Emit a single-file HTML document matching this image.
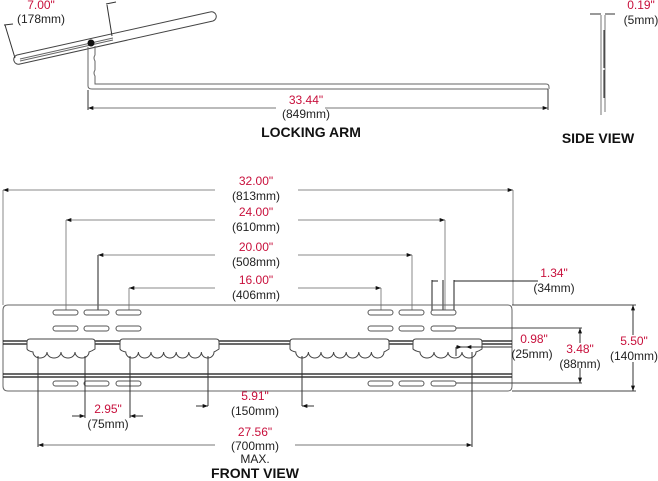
<!DOCTYPE html>
<html><head><meta charset="utf-8"><style>
html,body{margin:0;padding:0;background:#fff;}
svg{display:block;}
text{font-family:"Liberation Sans",sans-serif;font-size:12px;text-anchor:middle;}
.r{fill:#c8103c;}
.k{fill:#222;}
.b{font-weight:bold;font-size:14px;fill:#111;}
</style></head><body>
<svg width="658" height="481" viewBox="0 0 658 481" xmlns="http://www.w3.org/2000/svg">
<defs>
<marker id="a" viewBox="0 0 8 6" refX="8" refY="3" markerWidth="7" markerHeight="4" orient="auto-start-reverse"><path d="M0,0L8,3L0,6z" fill="#111"/></marker>
</defs>
<g fill="none" stroke="#555" stroke-width="1">
<path d="M17,55 L210,12 A4.5,4.5 0 0 1 213,21 L20,64 A4.5,4.5 0 0 1 17,55z" stroke="#444"/>
<path d="M20,59 L113,38 M20,61 L113,40" stroke="#666"/>
<path d="M88,47 L88,86 Q88,89 92,89 L548,89 M95,46 L95,55 Q93,58 95,61 L95,70 Q93,73 95,76 L95,84 L546,84 Q549,84 549,87 L549,89" stroke="#666"/>
<path d="M548,89 L548,110 M88,90 L88,110" stroke="#333"/>
<line x1="88" y1="108" x2="276" y2="108" stroke="#777" marker-start="url(#a)"/>
<line x1="325" y1="108" x2="548" y2="108" stroke="#777" marker-end="url(#a)"/>
<path d="M5,25 L15,58 M4,25 L13,24 M107,5 L112,36 M106,4 L116,2" stroke="#333"/>
<path d="M601,15 L601,115 M605,15 L605,112" stroke="#777"/>
<path d="M604,30 L604,68 M604,70 L604,98" stroke="#222"/>
<path d="M590,14 L601,14 M605,14 L615,14" stroke="#333"/>
<path d="M3,190 L3,305 M513,190 L513,305 M66,220 L66,312 M445,220 L445,312 M98,255 L98,312 M412,255 L412,312 M129,288 L129,312 M381,288 L381,312" stroke="#888"/>
<path d="M98,255 L98,312 M432,280 L432,312 M443,280 L443,312 M454,280 L454,312" stroke="#222"/>
<line x1="3" y1="190" x2="215" y2="190" stroke="#888" marker-start="url(#a)"/>
<line x1="298" y1="190" x2="513" y2="190" stroke="#888" marker-end="url(#a)"/>
<line x1="66" y1="220" x2="215" y2="220" stroke="#888" marker-start="url(#a)"/>
<line x1="298" y1="220" x2="445" y2="220" stroke="#888" marker-end="url(#a)"/>
<line x1="98" y1="255" x2="215" y2="255" stroke="#888" marker-start="url(#a)"/>
<line x1="298" y1="255" x2="412" y2="255" stroke="#888" marker-end="url(#a)"/>
<line x1="129" y1="288" x2="215" y2="288" stroke="#888" marker-start="url(#a)"/>
<line x1="298" y1="288" x2="381" y2="288" stroke="#888" marker-end="url(#a)"/>
<path d="M432,281 L438,281 M454,281 L538,281" stroke="#222"/>
<path d="M8,305 L508,305 Q512,305 512,310 L512,386 Q512,391 508,391 L8,391 Q3,391 3,386 L3,310 Q3,305 8,305z" stroke="#666"/>
<path d="M512,305 L636,305 M512,391 L636,391" stroke="#444"/>
<path d="M3,341 L512,341 M3,344 L512,344 M3,374 L512,374 M3,377 L512,377" stroke="#111" stroke-width="1.2"/>
<g stroke="#555" fill="#fff">
<rect x="53" y="310" width="25" height="5" rx="2.5"/><rect x="84" y="310" width="25" height="5" rx="2.5"/><rect x="116" y="310" width="25" height="5" rx="2.5"/>
<rect x="53" y="326" width="25" height="5" rx="2.5"/><rect x="84" y="326" width="25" height="5" rx="2.5"/><rect x="116" y="326" width="25" height="5" rx="2.5"/>
<rect x="53" y="381" width="25" height="5" rx="2.5"/><rect x="84" y="381" width="25" height="5" rx="2.5"/><rect x="116" y="381" width="25" height="5" rx="2.5"/>
<rect x="368" y="310" width="25" height="5" rx="2.5"/><rect x="399" y="310" width="25" height="5" rx="2.5"/><rect x="431" y="310" width="25" height="5" rx="2.5"/>
<rect x="368" y="326" width="25" height="5" rx="2.5"/><rect x="399" y="326" width="25" height="5" rx="2.5"/><rect x="431" y="326" width="25" height="5" rx="2.5"/>
<rect x="368" y="381" width="25" height="5" rx="2.5"/><rect x="399" y="381" width="25" height="5" rx="2.5"/><rect x="431" y="381" width="25" height="5" rx="2.5"/>
</g>
<g stroke="#444" fill="#fff">
<path d="M30,339 L92,339 Q95,339 95,342 L95,349 Q92,351 89,352 a7,6 0 0 1 -14,0 a7,6 0 0 1 -14,0 a7,6 0 0 1 -14,0 a7,6 0 0 1 -14,0 Q28,351 27,349 L27,342 Q27,339 30,339z"/>
<path d="M123,339 L216,339 Q219,339 219,342 L219,349 Q216,351 214,352 a6.3,6 0 0 1 -12.6,0 a6.3,6 0 0 1 -12.6,0 a6.3,6 0 0 1 -12.6,0 a6.3,6 0 0 1 -12.6,0 a6.3,6 0 0 1 -12.6,0 a6.3,6 0 0 1 -12.6,0 a6.3,6 0 0 1 -12.6,0 Q121,351 120,349 L120,342 Q120,339 123,339z"/>
<path d="M293,339 L386,339 Q389,339 389,342 L389,349 Q386,351 384,352 a6.3,6 0 0 1 -12.6,0 a6.3,6 0 0 1 -12.6,0 a6.3,6 0 0 1 -12.6,0 a6.3,6 0 0 1 -12.6,0 a6.3,6 0 0 1 -12.6,0 a6.3,6 0 0 1 -12.6,0 a6.3,6 0 0 1 -12.6,0 Q291,351 290,349 L290,342 Q290,339 293,339z"/>
<path d="M416,339 L479,339 Q482,339 482,342 L482,349 Q479,351 476,352 a7,6 0 0 1 -14,0 a7,6 0 0 1 -14,0 a7,6 0 0 1 -14,0 a7,6 0 0 1 -14,0 Q415,351 413,349 L413,342 Q413,339 416,339z"/>
</g>
<path d="M38,356 L38,447 M85,356 L85,418 M130,356 L130,418 M208,356 L208,406 M302,356 L302,406 M472,352 L472,447" stroke="#333"/>
<line x1="72" y1="416" x2="85" y2="416" stroke="#333" marker-end="url(#a)"/>
<line x1="143" y1="416" x2="130" y2="416" stroke="#333" marker-end="url(#a)"/>
<line x1="196" y1="406" x2="208" y2="406" stroke="#333" marker-end="url(#a)"/>
<line x1="314" y1="406" x2="302" y2="406" stroke="#333" marker-end="url(#a)"/>
<line x1="38" y1="445" x2="215" y2="445" stroke="#777" marker-start="url(#a)"/>
<line x1="295" y1="445" x2="472" y2="445" stroke="#777" marker-end="url(#a)"/>
<path d="M456,347 L512,347 M456,347 L456,356" stroke="#333"/>
<line x1="456" y1="347" x2="462" y2="347" stroke="#333" marker-end="url(#a)"/>
<line x1="472" y1="347" x2="466" y2="347" stroke="#333" marker-end="url(#a)"/>
<path d="M456,328 L582,328 M456,383 L582,383" stroke="#444"/>
<line x1="580" y1="343" x2="580" y2="328" stroke="#333" marker-end="url(#a)"/>
<line x1="580" y1="368" x2="580" y2="383" stroke="#333" marker-end="url(#a)"/>
<line x1="633" y1="335" x2="633" y2="305" stroke="#333" marker-end="url(#a)"/>
<line x1="633" y1="362" x2="633" y2="391" stroke="#333" marker-end="url(#a)"/>
</g>
<circle cx="91" cy="43" r="3.5" fill="#111"/>
<text x="41" y="9" class="r">7.00"</text><text x="41" y="23" class="k">(178mm)</text>
<text x="306" y="104" class="r">33.44"</text><text x="306" y="118" class="k">(849mm)</text>
<text x="311" y="137" class="b">LOCKING ARM</text>
<text x="641" y="9" class="r">0.19"</text><text x="641" y="24" class="k">(5mm)</text>
<text x="598" y="143" class="b">SIDE VIEW</text>
<text x="256" y="185" class="r">32.00"</text><text x="256" y="200" class="k">(813mm)</text>
<text x="256" y="216" class="r">24.00"</text><text x="256" y="231" class="k">(610mm)</text>
<text x="256" y="251" class="r">20.00"</text><text x="256" y="266" class="k">(508mm)</text>
<text x="256" y="284" class="r">16.00"</text><text x="256" y="299" class="k">(406mm)</text>
<text x="554" y="277" class="r">1.34"</text><text x="554" y="292" class="k">(34mm)</text>
<text x="534" y="343" class="r">0.98"</text><text x="532" y="358" class="k">(25mm)</text>
<text x="580" y="353" class="r">3.48"</text><text x="580" y="368" class="k">(88mm)</text>
<text x="634" y="345" class="r">5.50"</text><text x="634" y="360" class="k">(140mm)</text>
<text x="255" y="400" class="r">5.91"</text><text x="255" y="415" class="k">(150mm)</text>
<text x="108" y="413" class="r">2.95"</text><text x="108" y="428" class="k">(75mm)</text>
<text x="255" y="436" class="r">27.56"</text><text x="255" y="450" class="k">(700mm)</text>
<text x="255" y="463" class="k">MAX.</text>
<text x="255" y="478" class="b">FRONT VIEW</text>
</svg>
</body></html>
